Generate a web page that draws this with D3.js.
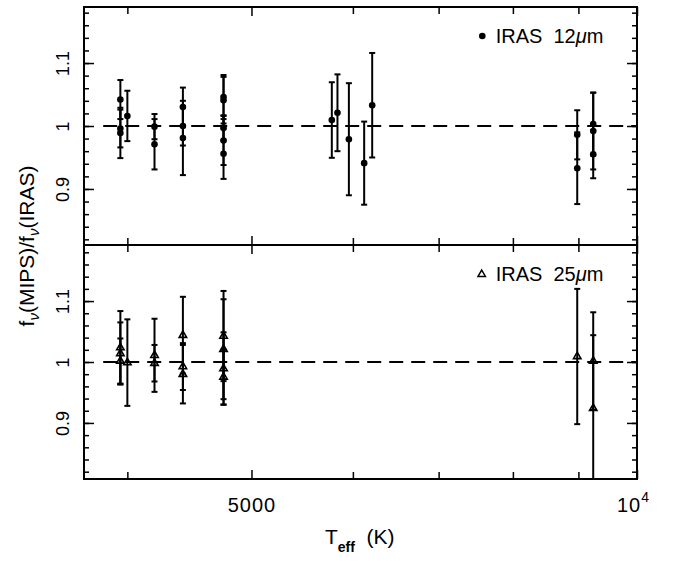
<!DOCTYPE html>
<html><head><meta charset="utf-8">
<script src="https://cdn.jsdelivr.net/npm/d3@7"></script>
<style>
html,body{margin:0;padding:0;background:#fff;}
svg{display:block;font-family:"Liberation Sans",Arial,Helvetica,sans-serif;}
</style></head>
<body>
<svg id="chart" width="676" height="561"></svg>
<script>
// ---- data ----
const teff12  = [3950,3950,3950,4000,4200,4200,4420,4420,4420,4755,4755,4755,4755,4755,5777,5836,5957,6123,6212,8981,8981,9243,9243,9243];
const ratio12 = [1.042,0.996,0.989,1.016,0.999,0.971,1.030,1.000,0.981,1.046,1.041,0.997,0.977,0.956,1.0095,1.021,0.979,0.941,1.033,0.986,0.933,1.003,0.992,0.955];
const err12   = [0.031,0.030,0.040,0.040,0.020,0.040,0.031,0.031,0.059,0.035,0.037,0.020,0.039,0.040,0.060,0.061,0.089,0.066,0.083,0.039,0.057,0.050,0.061,0.038];

const teff25  = [3950,3950,3950,4000,4200,4200,4420,4420,4420,4755,4755,4755,4755,8981,9243,9243];
const ratio25 = [1.0236,1.014,1.0016,0.999,1.011,0.998,1.044,0.9925,0.980,1.0426,1.021,0.9892,0.9754,1.009,1.0016,0.924];
const err25   = [0.060,0.051,0.037,0.071,0.060,0.030,0.063,0.0385,0.048,0.074,0.082,0.0595,0.045,0.111,0.080,0.120];

const xMajorTicks = [5000, 10000];
const xMinorTicks = [4000, 6000, 7000, 8000, 9000];
const yMajorTicks = [0.9, 1.0, 1.1];
const yMinorTicks = d3.range(41, 60).map(i => i / 50);
const legend12 = ["IRAS  12", "\u03bc", "m"];
const legend25 = ["IRAS  25", "\u03bc", "m"];

// ---- layout ----
const svg = d3.select("#chart");
const L = 84, R = 637;
const x = d3.scaleLog().domain([3700, 10000]).range([L, R]);
const panels = [
  {top: 7,   bottom: 245, dom: [0.811, 1.189], T: teff12, V: ratio12, E: err12, sym: "dot", leg: legend12, legY: 36},
  {top: 245, bottom: 479, dom: [0.808, 1.192], T: teff25, V: ratio25, E: err25, sym: "tri", leg: legend25, legY: 274.3}
];

const defs = svg.append("defs");

panels.forEach((p, i) => {
  const y = d3.scaleLinear().domain(p.dom).range([p.bottom, p.top]);
  const g = svg.append("g");
  const cid = "clip" + i;
  defs.append("clipPath").attr("id", cid).append("rect")
    .attr("x", L).attr("y", p.top).attr("width", R - L).attr("height", p.bottom - p.top);

  // axes (ticks inward on all sides)
  const mk = (axis, pos, tr) => {
    const a = g.append("g").attr("transform", tr).call(axis);
    a.select(".domain").remove();
    a.selectAll("line").attr("stroke", "#000").attr("stroke-width", 1.5);
    return a;
  };
  // left
  mk(d3.axisLeft(y).tickValues(yMinorTicks).tickSize(-5).tickFormat(""), 0, `translate(${L},0)`);
  const yl = mk(d3.axisLeft(y).tickValues(yMajorTicks).tickSize(-10).tickFormat(d => d === 1 ? "1" : d3.format(".1f")(d)), 0, `translate(${L},0)`);
  yl.selectAll("text").attr("x", null).attr("dy", null)
    .attr("transform", "translate(-15,0) rotate(-90)")
    .attr("text-anchor", "middle").attr("font-size", 18).attr("fill", "#000")
    .style("font-family", "Liberation Sans, Arial, sans-serif");
  // right
  mk(d3.axisRight(y).tickValues(yMinorTicks).tickSize(-5).tickFormat(""), 0, `translate(${R},0)`);
  mk(d3.axisRight(y).tickValues(yMajorTicks).tickSize(-10).tickFormat(""), 0, `translate(${R},0)`);
  // top
  mk(d3.axisTop(x).tickValues(xMinorTicks).tickSize(-7).tickFormat(""), 0, `translate(0,${p.top})`);
  mk(d3.axisTop(x).tickValues(xMajorTicks).tickSize(-9).tickFormat(""), 0, `translate(0,${p.top})`);
  // bottom
  mk(d3.axisBottom(x).tickValues(xMinorTicks).tickSize(-7).tickFormat(""), 0, `translate(0,${p.bottom})`);
  const xb = mk(d3.axisBottom(x).tickValues(xMajorTicks).tickSize(-9)
      .tickFormat(d => i === 1 ? (d === 10000 ? "10" : String(d)) : ""), 0, `translate(0,${p.bottom})`);
  if (i === 1) {
    xb.selectAll("text").attr("y", 33).attr("dy", null).attr("dx", d => d === 10000 ? -4 : 0)
      .attr("font-size", 20).attr("fill", "#000").attr("letter-spacing", 1)
      .style("font-family", "Liberation Sans, Arial, sans-serif");
    xb.selectAll("text").filter(d => d === 10000).append("tspan")
      .attr("dy", -10).attr("font-size", 14).text("4");
  }

  // frame
  g.append("rect").attr("x", L).attr("y", p.top).attr("width", R - L).attr("height", p.bottom - p.top)
    .attr("fill", "none").attr("stroke", "#000").attr("stroke-width", 2);

  // dashed line at 1
  g.append("line").attr("x1", x(3830)).attr("x2", x(10000)).attr("y1", y(1)).attr("y2", y(1))
    .attr("stroke", "#000").attr("stroke-width", 2).attr("stroke-dasharray", "14,8");

  // data
  const data = p.T.map((t, k) => ({t, v: p.V[k], e: p.E[k]}));
  const dg = g.append("g").attr("clip-path", `url(#${cid})`);
  const eb = dg.selectAll("g.eb").data(data).join("g").attr("class", "eb")
    .attr("stroke", "#000").attr("stroke-width", 2);
  eb.append("line").attr("x1", d => x(d.t)).attr("x2", d => x(d.t))
    .attr("y1", d => y(d.v - d.e)).attr("y2", d => y(d.v + d.e));
  eb.append("line").attr("x1", d => x(d.t) - 3).attr("x2", d => x(d.t) + 3)
    .attr("y1", d => y(d.v + d.e)).attr("y2", d => y(d.v + d.e));
  eb.append("line").attr("x1", d => x(d.t) - 3).attr("x2", d => x(d.t) + 3)
    .attr("y1", d => y(d.v - d.e)).attr("y2", d => y(d.v - d.e));

  if (p.sym === "dot") {
    dg.selectAll("circle").data(data).join("circle")
      .attr("cx", d => x(d.t)).attr("cy", d => y(d.v)).attr("r", 3.3).attr("fill", "#000");
  } else {
    const tri = d3.symbol().type(d3.symbolTriangle).size(24);
    dg.selectAll("path.tri").data(data).join("path").attr("class", "tri")
      .attr("d", tri).attr("transform", d => `translate(${x(d.t)},${y(d.v)})`)
      .attr("fill", "none").attr("stroke", "#000").attr("stroke-width", 1.6);
  }

  // legend
  if (p.sym === "dot") {
    g.append("circle").attr("cx", 482.3).attr("cy", p.legY).attr("r", 3.3).attr("fill", "#000");
  } else {
    g.append("path").attr("d", d3.symbol().type(d3.symbolTriangle).size(24)())
      .attr("transform", `translate(481.7,${p.legY})`)
      .attr("fill", "none").attr("stroke", "#000").attr("stroke-width", 1.5);
  }
  const lt = g.append("text").attr("x", 495.7).attr("y", p.legY + 7).attr("font-size", 20)
    .attr("fill", "#000").style("white-space", "pre");
  lt.append("tspan").text(p.leg[0]);
  lt.append("tspan").attr("font-style", "italic").text(p.leg[1]);
  lt.append("tspan").text(p.leg[2]);
});

// y-axis label
const ylab = svg.append("text").attr("transform", "translate(34,246) rotate(-90)")
  .attr("text-anchor", "middle").attr("font-size", 21).attr("fill", "#000");
ylab.append("tspan").text("f");
ylab.append("tspan").attr("font-style", "italic").attr("font-size", 15).attr("dy", 5).text("\u03bd");
ylab.append("tspan").attr("dy", -5).text("(MIPS)/f");
ylab.append("tspan").attr("font-style", "italic").attr("font-size", 15).attr("dy", 5).text("\u03bd");
ylab.append("tspan").attr("dy", -5).text("(IRAS)");

// x-axis label
const xlab = svg.append("text").attr("x", 325).attr("y", 544).attr("font-size", 21)
  .attr("fill", "#000").style("white-space", "pre");
xlab.append("tspan").text("T");
xlab.append("tspan").attr("font-size", 14).attr("font-weight", "bold").attr("dy", 8).text("eff");
xlab.append("tspan").attr("dy", -8).text("  (K)");
</script>
</body></html>
